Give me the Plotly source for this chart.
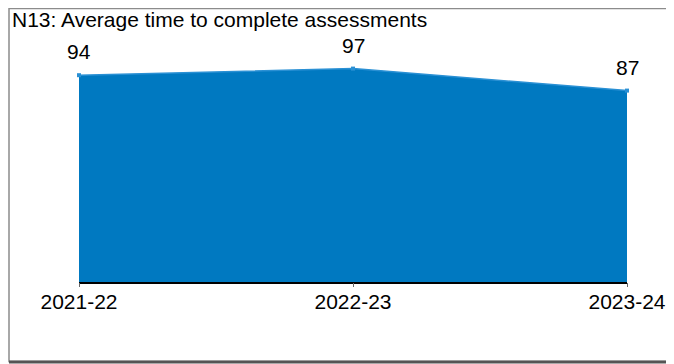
import plotly.graph_objects as go

years = ["2021-22", "2022-23", "2023-24"]
avg_days = [94, 97, 87]

W, H = 674, 364
OFF = 8  # page body margin
# plot area in screenshot pixels: x 79..627, y 62..282
L, T = 79 - OFF, 62 - OFF
R, B = W - (627 - OFF), H - (282 - OFF)
pw, ph = W - L - R, H - T - B
FONT = "Liberation Sans, Arial"

fig = go.Figure()
fig.add_trace(
    go.Scatter(
        x=years,
        y=avg_days,
        mode="lines+markers",
        fill="tozeroy",
        fillcolor="#0079C1",
        line=dict(color="#2A90D4", width=1.5),
        marker=dict(symbol="square", size=4, color="#2A90D4"),
        cliponaxis=False,
        hoverinfo="x+y",
    )
)
# invisible copy on a second axis that only draws the tick marks
fig.add_trace(
    go.Scatter(
        x=years,
        y=avg_days,
        xaxis="x2",
        mode="markers",
        marker=dict(opacity=0),
        hoverinfo="skip",
    )
)

annotations = [
    dict(
        x=yr,
        y=v,
        xref="x",
        yref="y",
        text=str(v),
        showarrow=False,
        yanchor="bottom",
        yshift=10,
        font=dict(family=FONT, size=21, color="#000000"),
    )
    for yr, v in zip(years, avg_days)
]


def px_x(p):
    return (p - OFF - L) / pw


def px_y(p):
    return (H - B - (p - OFF)) / ph


fig.update_layout(
    width=W,
    height=H,
    margin=dict(l=L, r=R, t=T, b=B),
    paper_bgcolor="white",
    plot_bgcolor="white",
    showlegend=False,
    font=dict(family=FONT, size=21, color="#000000"),
    title=dict(
        text="N13: Average time to complete assessments",
        x=(12 - OFF) / W,
        xanchor="left",
        xref="container",
        y=1 - (20 - OFF) / H,
        yanchor="middle",
        yref="container",
        font=dict(size=21, color="#000000"),
    ),
    xaxis=dict(
        type="category",
        range=[0, 2],
        showgrid=False,
        showline=True,
        linecolor="#000000",
        linewidth=2,
        ticks="",
        tickfont=dict(size=21),
        zeroline=False,
    ),
    xaxis2=dict(
        type="category",
        range=[0, 2],
        overlaying="x",
        anchor="y",
        side="bottom",
        showgrid=False,
        showline=False,
        ticks="outside",
        ticklen=4,
        tickcolor="#666666",
        showticklabels=False,
        zeroline=False,
    ),
    yaxis=dict(
        range=[0, 100],
        visible=False,
        showgrid=False,
        zeroline=False,
    ),
    annotations=annotations,
    shapes=[
        dict(
            type="rect",
            xref="paper",
            yref="paper",
            x0=px_x(9),
            x1=px_x(667.5),
            y0=px_y(361.5),
            y1=px_y(8.5),
            line=dict(color="#8C8C8C", width=1.5),
            fillcolor="rgba(0,0,0,0)",
            layer="below",
        ),
        dict(
            type="line",
            xref="paper",
            yref="paper",
            x0=px_x(9),
            x1=px_x(668),
            y0=px_y(362),
            y1=px_y(362),
            line=dict(color="#555555", width=3),
        ),
    ],
)

fig.write_html("out.html")
